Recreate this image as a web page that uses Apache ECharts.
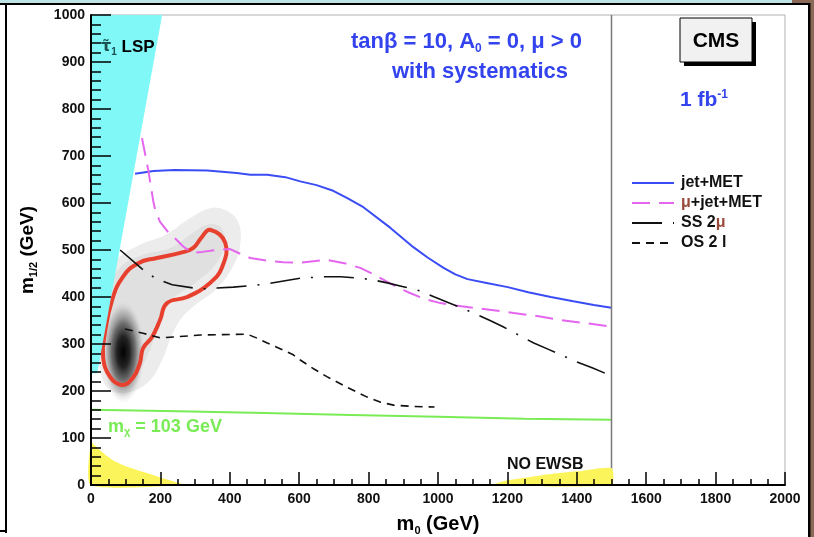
<!DOCTYPE html>
<html><head><meta charset="utf-8">
<script src="https://cdn.jsdelivr.net/npm/echarts@6/dist/echarts.min.js"></script>
<style>html,body{margin:0;padding:0;background:#fff}#c{width:814px;height:537px}</style>
</head><body><div id="c"></div>
<script>
// ---- data (m0, m1/2) in GeV ----
const xTickValues = [0,200,400,600,800,1000,1200,1400,1600,1800,2000];
const yTickValues = [0,100,200,300,400,500,600,700,800,900,1000];

const jetMET = [[127,662],[180,668],[240,670],[335,669],[420,664],[459,660],[508,660],[560,655],[603,646],[650,638],[698,626],[740,610],[785,591],[863,547],[929,506],[970,484],[1016,462],[1050,448],[1085,438],[1140,430],[1201,421],[1260,410],[1325,400],[1390,391],[1449,383],[1500,377]];
const muJetMET = [[147,738],[165,670],[179,606],[185,585],[199,560],[220,540],[242,525],[265,508],[291,494],[320,496],[363,500],[401,502],[430,492],[459,483],[500,478],[554,474],[603,473],[640,476],[681,479],[730,472],[776,462],[815,448],[854,432],[890,418],[921,408],[960,396],[1007,387],[1050,382],[1102,377],[1160,372],[1218,366],[1290,359],[1354,351],[1430,344],[1500,337]];
const ss2mu = [[84,500],[147,460],[185,440],[234,426],[315,417],[363,419],[410,421],[460,424],[508,428],[555,434],[603,440],[670,443],[720,443],[776,440],[815,436],[854,430],[900,422],[949,413],[990,400],[1027,389],[1070,376],[1114,362],[1150,350],[1189,336],[1230,320],[1276,302],[1320,288],[1354,277],[1400,262],[1446,249],[1500,232]];
const os2l = [[98,332],[150,323],[199,313],[237,315],[315,319],[380,320],[450,321],[480,312],[508,302],[545,290],[583,277],[603,266],[640,248],[681,230],[740,207],[796,187],[835,176],[872,170],[930,167],[990,166]];
const chi103 = [[0,160],[250,157],[500,153],[750,149],[1000,145],[1250,141],[1500,139]];
const edgeLine = [[1500,0],[1500,1000]];

const stauLSP = [[0,1000],[205,1000],[18,238],[0,238]];
const noEwsbLeft = [[0,0],[0,90],[20,78],[40,65],[70,50],[100,40],[150,28],[200,16],[240,7],[270,0]];
const noEwsbRight = [[1157,0],[1200,10],[1300,21],[1400,29],[1500,36],[1500,0]];

const redContour = [[343,543],[387,515],[378,464],[343,430],[277,400],[219,387],[199,351],[176,315],[150,291],[141,260],[121,228],[89,213],[55,230],[35,272],[40,323],[61,394],[92,443],[136,472],[190,483],[257,494],[294,504],[320,528]];
const grayOuter = [[26,394],[69,474],[141,511],[214,532],[286,568],[343,589],[387,585],[424,560],[430,511],[407,462],[358,415],[300,383],[257,351],[228,309],[205,266],[170,223],[113,198],[55,202],[26,245],[20,330]];
const grayInner = [[40,390],[80,460],[150,490],[230,505],[300,540],[340,555],[375,548],[385,515],[360,470],[300,430],[240,400],[205,370],[185,320],[160,270],[130,235],[95,222],[60,235],[45,290]];
const densityCore = [[93,283,62,110]];

const legendNames = ['jet+MET','μ+jet+MET','SS 2μ','OS 2 l'];

const FONT = 'Liberation Sans';

function poly(name, pts, style, z, smooth) {
  return {
    type:'custom', name, coordinateSystem:'cartesian2d', data:[pts[0]], z, silent:true,
    renderItem:(params, api) => ({
      type:'polygon',
      shape:{points: pts.map(p => api.coord(p)), smooth: smooth || 0},
      style: style
    })
  };
}
function line(name, pts, color, width, type, z) {
  return {type:'line', name, data:pts, showSymbol:false, symbol:'none', z: z||6, silent:true,
    lineStyle:{color, width, type}, itemStyle:{color}};
}

const chart = echarts.init(document.getElementById('c'), null, {renderer:'canvas'});
chart.setOption({
  animation:false,
  backgroundColor:'#fff',
  grid:{left:91,right:29,top:15,bottom:52,show:true,borderColor:'#b0b0b0',borderWidth:1,
    containLabel:false, outerBoundsMode:'none'},
  xAxis:{type:'value',min:0,max:2000,interval:200,z:10,
    axisLine:{lineStyle:{color:'#000',width:2}},
    axisTick:{inside:true,length:13,lineStyle:{color:'#000',width:1.5}},
    minorTick:{show:true,splitNumber:4,length:6,lineStyle:{color:'#000',width:1.5}},
    splitLine:{show:false},
    axisLabel:{color:'#111',fontFamily:FONT,fontWeight:'bold',fontSize:14,margin:7,formatter:v=>String(v)},
    name:'{b|m}{s|0}{b| (GeV)}', nameLocation:'middle', nameGap:28,
    nameTextStyle:{rich:{b:{fontFamily:FONT,fontWeight:'bold',fontSize:20,color:'#000'},
      s:{fontFamily:FONT,fontWeight:'bold',fontSize:11,color:'#000',padding:[12,0,0,0]}}}
  },
  yAxis:{type:'value',min:0,max:1000,interval:100,z:10,
    axisLine:{lineStyle:{color:'#000',width:2}},
    axisTick:{inside:true,length:20,lineStyle:{color:'#000',width:1.5}},
    minorTick:{show:true,splitNumber:5,length:10,lineStyle:{color:'#000',width:1.5}},
    splitLine:{show:false},
    axisLabel:{color:'#111',fontFamily:FONT,fontWeight:'bold',fontSize:14,margin:6,formatter:v=>String(v)},
    name:'{b|m}{s|1/2}{b| (GeV)}', nameLocation:'middle', nameGap:52, nameRotate:90,
    nameTextStyle:{rich:{b:{fontFamily:FONT,fontWeight:'bold',fontSize:19,color:'#000'},
      s:{fontFamily:FONT,fontWeight:'bold',fontSize:11,color:'#000',padding:[12,0,0,0]}}}
  },
  legend:{data:legendNames, orient:'vertical', left:626, top:170, itemWidth:42, itemHeight:14, itemGap:4,
    selectedMode:false,
    itemStyle:{opacity:0},
    formatter: n => n.replace('μ','{m|μ}'),
    textStyle:{fontFamily:FONT,fontWeight:'bold',fontSize:16,color:'#111',padding:[0,0,0,2],
      rich:{m:{fontFamily:FONT,fontWeight:'bold',fontSize:16,color:'#9a4a3a'}}}
  },
  series:[
    poly('grayOuter', grayOuter, {fill:'#ececec'}, 1, 0.4),
    poly('grayInner', grayInner, {fill:'#e0e0e0'}, 1, 0.4),
    {type:'custom', name:'core', coordinateSystem:'cartesian2d', data:densityCore, z:2, silent:true,
      renderItem:(params, api) => {
        const c = api.coord([api.value(0), api.value(1)]);
        const s = api.size([api.value(2), api.value(3)]);
        return {type:'circle', x:c[0], y:c[1], scaleY:s[1]/s[0], shape:{cx:0,cy:0,r:s[0]},
          style:{fill:{type:'radial',x:0.5,y:0.5,r:0.5,colorStops:[
            {offset:0,color:'rgba(0,0,0,1)'},{offset:0.3,color:'rgba(25,25,25,0.95)'},
            {offset:0.55,color:'rgba(80,80,80,0.8)'},{offset:0.8,color:'rgba(150,150,150,0.45)'},
            {offset:1,color:'rgba(224,224,224,0)'}]}}};
      }},
    poly('redContour', redContour, {fill:'none', stroke:'#e8402f', lineWidth:4}, 3, 0.45),
    line('jet+MET', jetMET, '#3a4cf5', 2, 'solid', 6),
    line('μ+jet+MET', muJetMET, '#e466ee', 2, [18,9], 6),
    line('SS 2μ', ss2mu, '#111', 1.6, [30,11,2,11], 6),
    line('OS 2 l', os2l, '#111', 1.6, [8,6], 6),
    line('chi', chi103, '#79ec55', 2, 'solid', 6),
    line('edge', edgeLine, '#7a7a7a', 1.5, 'solid', 7),
    poly('stau', stauLSP, {fill:'#80f8f8'}, 8, 0),
    poly('ewsbL', noEwsbLeft, {fill:'#fbf45a'}, 8, 0.2),
    poly('ewsbR', noEwsbRight, {fill:'#fbf45a'}, 8, 0.2)
  ],
  graphic:[
    // slide frame
    {type:'rect', shape:{x:0,y:0,width:814,height:4}, style:{fill:'#bfe2e5'}, z:100},
    {type:'rect', shape:{x:792,y:0,width:22,height:4}, style:{fill:'#8a6a56'}, z:100},
    {type:'rect', shape:{x:810,y:0,width:4,height:537}, style:{fill:'#8a6a56'}, z:100},
    {type:'rect', shape:{x:0,y:3,width:810,height:2}, style:{fill:'#000'}, z:101},
    {type:'rect', shape:{x:808,y:3,width:2.5,height:534}, style:{fill:'#000'}, z:101},
    {type:'rect', shape:{x:5,y:3,width:2,height:530}, style:{fill:'#000'}, z:101},
    {type:'rect', shape:{x:0,y:530,width:7,height:2}, style:{fill:'#000'}, z:101},
    // CMS box
    {type:'rect', shape:{x:684,y:22,width:72,height:44}, style:{fill:'#000'}, z:100},
    {type:'rect', shape:{x:680,y:18,width:72,height:44}, style:{fill:'#f1f1f1',stroke:'#000',lineWidth:1}, z:101},
    {type:'text', x:716, y:41, style:{text:'CMS', fill:'#000', font:'bold 21px "Liberation Sans"', textAlign:'center', textVerticalAlign:'middle'}, z:102},
    {type:'text', x:680, y:100, style:{text:'{b|1 fb}{s|-1}', textVerticalAlign:'middle', rich:{
      b:{fill:'#3344ee', font:'bold 21px "Liberation Sans"'}, s:{fill:'#3344ee', font:'bold 12px "Liberation Sans"', padding:[0,0,10,0]}}}, z:102},
    {type:'text', x:351, y:42, style:{text:'{b|tanβ = 10, A}{s|0}{b| = 0, μ > 0}', textVerticalAlign:'middle', rich:{
      b:{fill:'#3344ee', font:'bold 22px "Liberation Sans"'}, s:{fill:'#3344ee', font:'bold 12px "Liberation Sans"', padding:[13,0,0,0]}}}, z:102},
    {type:'text', x:392, y:72, style:{text:'with systematics', fill:'#3344ee', font:'bold 22px "Liberation Sans"', textVerticalAlign:'middle'}, z:102},
    {type:'text', x:101, y:47, style:{text:'{t|τ̃}{s|1}{b| LSP}', textVerticalAlign:'middle', rich:{
      t:{fill:'#1a5050', font:'bold 16px "DejaVu Sans"'}, s:{fill:'#1a5050', font:'bold 10px "Liberation Sans"', padding:[10,0,0,0]},
      b:{fill:'#000', font:'bold 17px "Liberation Sans"'}}}, z:102},
    {type:'text', x:108, y:427, style:{text:'{b|m}{s|χ}{b| = 103 GeV}', textVerticalAlign:'middle', rich:{
      b:{fill:'#79ec55', font:'bold 18px "Liberation Sans"'}, s:{fill:'#79ec55', font:'bold 11px "Liberation Sans"', padding:[10,0,0,0]}}}, z:102},
    {type:'text', x:507, y:465, style:{text:'NO EWSB', fill:'#111', font:'bold 16px "Liberation Sans"', textVerticalAlign:'middle'}, z:102}
  ]
});
</script></body></html>
